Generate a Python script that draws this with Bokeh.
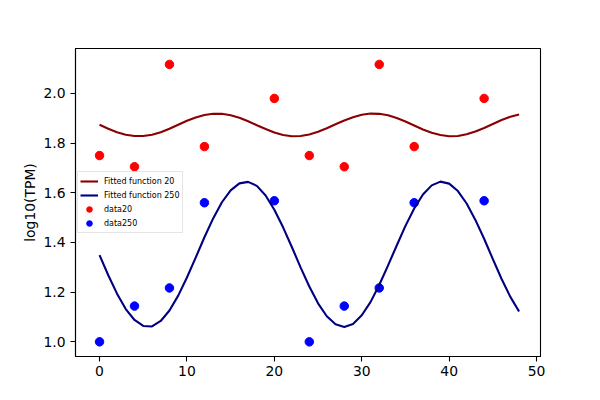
from bokeh.plotting import figure
from bokeh.models import (Range1d, FixedTicker, PrintfTickFormatter, Legend,
                          LegendItem, ColumnDataSource)
from bokeh.embed import file_html
from bokeh.resources import INLINE

# ---- data ----
hours = [0, 4, 8, 12, 20, 24, 28, 32, 36, 44]
data20 = [1.750, 1.705, 2.117, 1.786, 1.980, 1.750, 1.705, 2.117, 1.786, 1.980]
data250 = [1.000, 1.144, 1.217, 1.560, 1.568, 1.000, 1.144, 1.217, 1.560, 1.568]

fit_hours = [0, 1, 2, 3, 4, 5, 6, 7, 8, 9, 10, 11, 12, 13, 14, 15, 16, 17, 18,
             19, 20, 21, 22, 23, 24, 25, 26, 27, 28, 29, 30, 31, 32, 33, 34,
             35, 36, 37, 38, 39, 40, 41, 42, 43, 44, 45, 46, 47, 48]
fit20 = [1.874, 1.858, 1.844, 1.834, 1.829, 1.829, 1.834, 1.844, 1.858, 1.874,
         1.890, 1.903, 1.913, 1.918, 1.918, 1.912, 1.902, 1.888, 1.872, 1.857,
         1.843, 1.833, 1.828, 1.829, 1.835, 1.846, 1.860, 1.876, 1.891, 1.904,
         1.914, 1.919, 1.918, 1.912, 1.901, 1.887, 1.871, 1.855, 1.842, 1.833,
         1.828, 1.829, 1.836, 1.847, 1.861, 1.877, 1.893, 1.906, 1.915]
fit250 = [1.349, 1.268, 1.194, 1.132, 1.088, 1.064, 1.062, 1.084, 1.126, 1.186,
          1.259, 1.339, 1.421, 1.497, 1.562, 1.610, 1.638, 1.644, 1.628, 1.589,
          1.532, 1.461, 1.382, 1.300, 1.223, 1.155, 1.103, 1.071, 1.060, 1.072,
          1.107, 1.160, 1.229, 1.307, 1.388, 1.467, 1.537, 1.593, 1.630, 1.645,
          1.637, 1.607, 1.557, 1.491, 1.415, 1.333, 1.253, 1.181, 1.122]

x_ticks = [0, 10, 20, 30, 40, 50]
y_ticks = [1.0, 1.2, 1.4, 1.6, 1.8, 2.0]
y_label = "log10(TPM)"
labels = ["Fitted function 20", "Fitted function 250", "data20", "data250"]

FONT = "DejaVu Sans"

p = figure(width=584, height=384, output_backend="svg", toolbar_location=None,
           x_range=Range1d(-2.75, 50.45), y_range=Range1d(0.941, 2.181),
           min_border_left=75, min_border_right=44, min_border_top=48,
           min_border_bottom=28)
p.background_fill_color = "white"
p.border_fill_color = "white"
p.grid.visible = False
p.outline_line_color = "black"
p.outline_line_width = 1.1

pts = ColumnDataSource(dict(h=hours, d20=data20, d250=data250))
fit = ColumnDataSource(dict(h=fit_hours, f20=fit20, f250=fit250))

s20 = p.scatter("h", "d20", source=pts, size=8.5, color="red")
s250 = p.scatter("h", "d250", source=pts, size=8.5, color="blue")
l20 = p.line("h", "f20", source=fit, line_color="#8b0000", line_width=2.1,
             line_join="round")
l250 = p.line("h", "f250", source=fit, line_color="#000080", line_width=2.1,
              line_join="round")

for ax in (p.xaxis[0], p.yaxis[0]):
    ax.major_label_text_font = FONT
    ax.major_label_text_font_size = "13.9px"
    ax.major_label_text_color = "black"
    ax.axis_line_color = "black"
    ax.axis_line_width = 1.1
    ax.major_tick_line_color = "black"
    ax.major_tick_line_width = 1.1
    ax.major_tick_out = 5
    ax.major_tick_in = 0
    ax.minor_tick_line_color = None

p.xaxis[0].ticker = FixedTicker(ticks=x_ticks)
p.xaxis[0].major_label_standoff = 4
p.yaxis[0].ticker = FixedTicker(ticks=y_ticks)
p.yaxis[0].formatter = PrintfTickFormatter(format="%.1f")
p.yaxis[0].major_label_standoff = 5
p.yaxis[0].axis_label = y_label
p.yaxis[0].axis_label_text_font = FONT
p.yaxis[0].axis_label_text_font_size = "13.9px"
p.yaxis[0].axis_label_text_font_style = "normal"
p.yaxis[0].axis_label_text_color = "black"
p.yaxis[0].axis_label_standoff = 2

legend = Legend(items=[
    LegendItem(label=labels[0], renderers=[l20]),
    LegendItem(label=labels[1], renderers=[l250]),
    LegendItem(label=labels[2], renderers=[s20]),
    LegendItem(label=labels[3], renderers=[s250]),
], location=(2, 123), margin=0, padding=2, spacing=0,
    glyph_width=18, glyph_height=14, label_height=13, label_standoff=6,
    label_text_font=FONT, label_text_font_size="8px",
    label_text_color="black", border_line_color="#cccccc",
    border_line_width=1, background_fill_alpha=0.8)
p.add_layout(legend, "center")

open("out.html", "w").write(file_html(p, INLINE))
